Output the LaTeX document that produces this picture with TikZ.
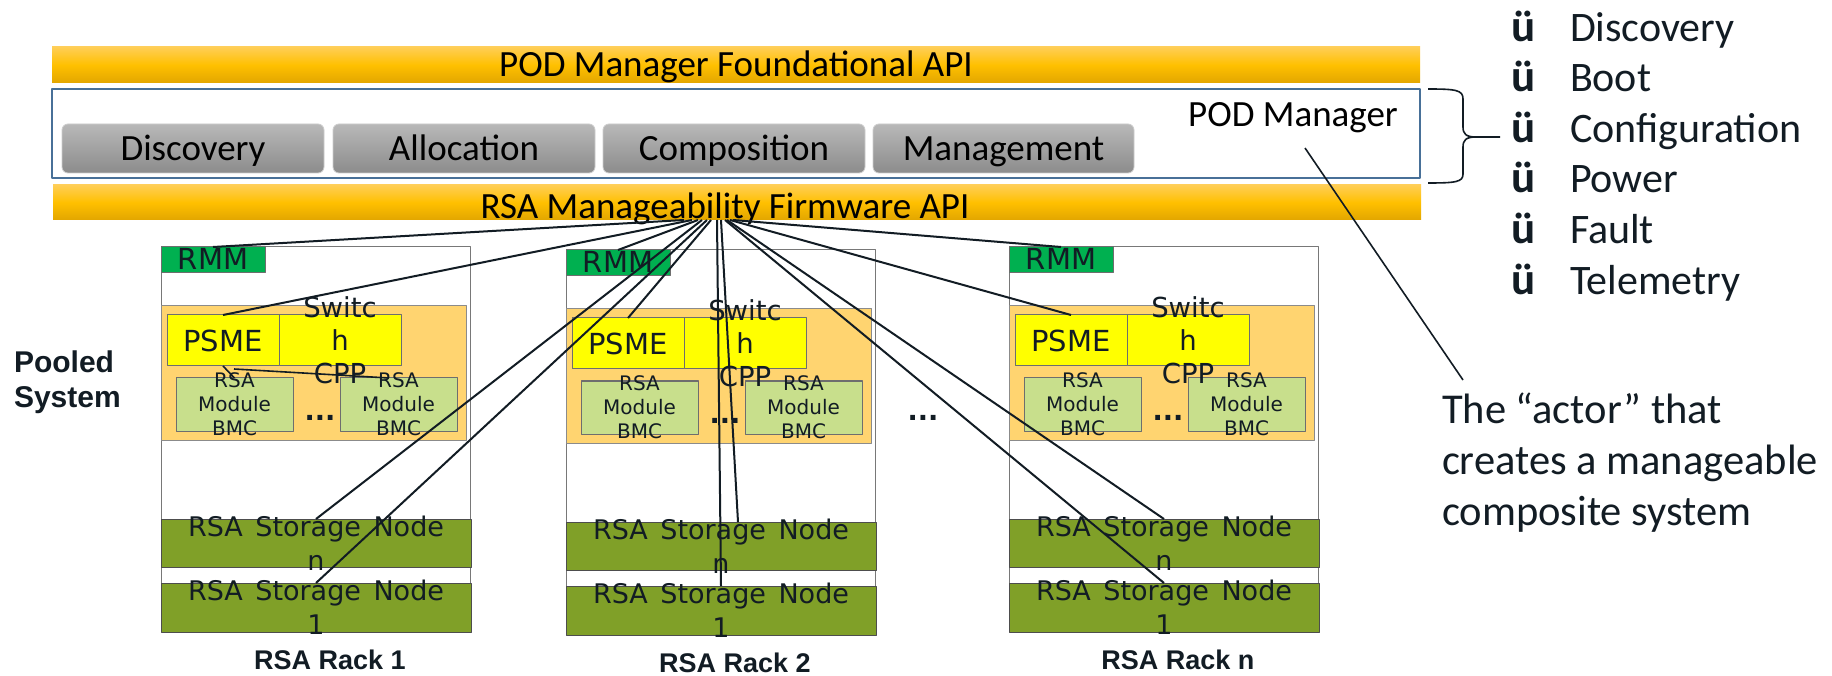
\documentclass[tikz,border=0pt]{standalone}
\usepackage{fontspec}
\setmainfont{Carlito}
\newfontfamily\vfont{DejaVu Sans}
\newfontfamily\afont{Liberation Sans}
\usetikzlibrary{calc}
\newcommand\widespaces{\spaceskip=12.5pt\relax}

\definecolor{ink}{RGB}{18,28,36}
\definecolor{barT}{RGB}{255,206,86}
\definecolor{barM}{RGB}{255,192,0}
\definecolor{barB}{RGB}{226,166,0}
\definecolor{btnT}{RGB}{184,184,184}
\definecolor{btnB}{RGB}{140,140,140}
\definecolor{btnE}{RGB}{205,205,205}
\definecolor{boxblue}{RGB}{72,112,152}
\definecolor{rmmgreen}{RGB}{0,176,80}
\definecolor{orangebg}{RGB}{255,212,112}
\definecolor{psmeyellow}{RGB}{255,255,0}
\definecolor{modgreen}{RGB}{200,223,140}
\definecolor{olive}{RGB}{128,160,40}
\definecolor{rackgray}{RGB}{120,120,120}
\definecolor{edgegray}{RGB}{110,110,110}

\newcommand\bx[7]{\node[#6, minimum width={(#4)-(#2)}, minimum height={(#5)-(#3)}] (#1) at ({((#2)+(#4))/2},{((#3)+(#5))/2}) {#7};}

\tikzset{
  every node/.style={inner sep=0pt, outer sep=0pt},
  apibar/.style={rectangle, draw=none, top color=barT, bottom color=barB, middle color=barM},
  btn/.style={rectangle, rounded corners=6pt, draw=btnE, line width=0.8pt, top color=btnT, bottom color=btnB},
  podbox/.style={rectangle, draw=boxblue, line width=2.2pt, fill=white},
  clear/.style={font=\fontsize{37}{44}\selectfont, text=black},
  chk/.style={font=\fontsize{45}{50}\selectfont\bfseries, text=ink, anchor=base west},
  cl/.style={font=\fontsize{42}{50}\selectfont, text=ink, anchor=base west},
  actor/.style={font=\fontsize{42.5}{51}\selectfont, text=ink, anchor=base west},
  rackbox/.style={rectangle, draw=rackgray, line width=1pt, fill=white},
  rmmbox/.style={rectangle, draw=edgegray, line width=1pt, fill=rmmgreen},
  orngbox/.style={rectangle, draw=edgegray!80, line width=1pt, fill=orangebg},
  ybox/.style={rectangle, draw=edgegray, line width=1pt, fill=psmeyellow},
  modbox/.style={rectangle, draw=edgegray, line width=1pt, fill=modgreen},
  stbox/.style={rectangle, draw=edgegray!70!black, line width=1pt, fill=olive},
  bigtxt/.style={font=\vfont\fontsize{29}{33}\selectfont, text=ink, align=center},
  vtxt/.style={font=\vfont\fontsize{27.5}{33}\selectfont, text=ink, align=center},
  mtxt/.style={font=\vfont\fontsize{20}{24}\selectfont, text=ink, align=center},
  stxt/.style={font={\vfont\fontsize{27}{34}\selectfont\widespaces}, text=ink, align=center},
  dotstyle/.style={font=\vfont\bfseries\fontsize{27}{30}\selectfont, text=ink, anchor=base},
  rlabel/.style={font=\afont\bfseries\fontsize{27}{30}\selectfont, text=ink},
  wire/.style={draw=ink, line width=2pt},
}

\newcommand\drawrack[4]{%
  \bx{#1rack}{#2}{#3}{#2+309}{#3+336}{rackbox}{}
  \bx{#1rmm}{#2}{#3}{#2+104}{#3+26}{rmmbox}{}
  \bx{#1orng}{#2}{#3+59}{#2+305}{#3+193}{orngbox}{}
  \bx{#1psme}{#2+6}{#3+68}{#2+118}{#3+119}{ybox}{}
  \bx{#1sw}{#2+118}{#3+68}{#2+240}{#3+119}{ybox}{}
  \bx{#1modl}{#2+15}{#3+131}{#2+132}{#3+184}{modbox}{}
  \bx{#1modr}{#2+179}{#3+131}{#2+296}{#3+184}{modbox}{}
  \bx{#1sn}{#2}{#3+272}{#2+310}{#3+320}{stbox}{}
  \bx{#1s1}{#2}{#3+336}{#2+310}{#3+385}{stbox}{}
  \node[bigtxt] (#1rmmt) at ({#2+52},{#3+12}) {RMM};
  \node[bigtxt] (#1psmet) at (#1psme) {PSME};
  \node[mtxt] (#1modlt) at (#1modl) {RSA\\Module\\BMC};
  \node[mtxt] (#1modrt) at (#1modr) {RSA\\Module\\BMC};
  \node[vtxt] (#1swt) at (#1sw) {Switc\\h\\CPP};
  \node[dotstyle] (#1dots) at ({#2+159},{#3+173}) {...};
  \node[stxt] (#1snt) at (#1sn) {RSA Storage Node\\n};
  \node[stxt] (#1s1t) at (#1s1) {RSA Storage Node\\1};
  \node[rlabel] (#1lbl) at ({#2+169},{#3+413}) {#4};
}

\begin{document}
\begin{tikzpicture}[x=1pt, y=-1pt, line join=round]
\useasboundingbox (0,0) rectangle (1832,676);
\fill[white] (0,0) rectangle (1832,676);

% POD manager layer
\bx{podbar}{52}{47}{1420}{83}{apibar}{}
\node[clear, anchor=base] (podbart) at (736,77) {POD Manager Foundational API};
\bx{podmgr}{52}{89}{1420}{178}{podbox}{}
\node[clear, anchor=base] (podmgrt) at (1293,127) {POD Manager};
\bx{bdisc}{62}{124}{324}{173}{btn}{}
\bx{balloc}{333}{124}{595}{173}{btn}{}
\bx{bcomp}{603}{124}{865}{173}{btn}{}
\bx{bmgmt}{873}{124}{1134}{173}{btn}{}
\node[clear, anchor=base] (bdisct) at (193,161) {Discovery};
\node[clear, anchor=base] (balloct) at (464,161) {Allocation};
\node[clear, anchor=base] (bcompt) at (734,161) {Composition};
\node[clear, anchor=base] (bmgmtt) at (1003.5,161) {Management};
\bx{fwbar}{53}{185}{1421}{220}{apibar}{}
\node[clear, anchor=base] (fwbart) at (725,219) {RSA Manageability Firmware API};

% brace
\draw[draw=ink, line width=1.6pt] (1428,89) .. controls (1456,89) and (1463,90) .. (1463,99) -- (1463,127) .. controls (1463,134) and (1466,137) .. (1476,137) -- (1500,137);
\draw[draw=ink, line width=1.6pt] (1476,137) .. controls (1466,137) and (1463,140) .. (1463,147) -- (1463,174) .. controls (1463,182) and (1456,183) .. (1428,183);

% checklist
\node[chk] (ck1) at (1511,42) {ü};
\node[chk] (ck2) at (1511,92) {ü};
\node[chk] (ck3) at (1511,143) {ü};
\node[chk] (ck4) at (1511,193) {ü};
\node[chk] (ck5) at (1511,244) {ü};
\node[chk] (ck6) at (1511,295) {ü};
\node[cl] (cl1) at (1570,42) {Discovery};
\node[cl] (cl2) at (1570,92) {Boot};
\node[cl] (cl3) at (1570,143) {Configuration};
\node[cl] (cl4) at (1570,193) {Power};
\node[cl] (cl5) at (1570,244) {Fault};
\node[cl] (cl6) at (1570,295) {Telemetry};

% actor text
\node[actor] (act1) at (1442,423) {The “actor” that};
\node[actor] (act2) at (1442,474) {creates a manageable};
\node[actor] (act3) at (1442,525) {composite system};
\coordinate (podtip) at (1305,148);
\coordinate (acttip) at (1463,380);
\draw[wire, line width=1.6pt] (podtip) -- (acttip);

% pooled system
\node[font=\afont\bfseries\fontsize{30}{35}\selectfont, text=ink, align=left, anchor=west] (pooled) at (14,382) {Pooled\\System};

% racks
\drawrack{r1}{161}{247}{RSA Rack 1}
\drawrack{r2}{566}{250}{RSA Rack 2}
\drawrack{r3}{1009}{247}{RSA Rack n}
\node[dotstyle] (rackdots) at (923,420) {...};

% rack 1 internal links
\coordinate (r1j) at ($(r1psme.south)+(11,3)$);
\coordinate (r1mr) at ($(r1modr.north west)+(49,0)$);
\draw[wire, line width=1.6pt] (r1psme.south) -- (r1modl.north);
\draw[wire, line width=1.6pt] (r1j) -- (r1mr);

% fan of links from the firmware API
\coordinate (h1) at (684,220);
\coordinate (h2) at (692,220);
\coordinate (h3) at (702,220);
\coordinate (h4) at (707,220);
\coordinate (h5) at (698,220);
\coordinate (h6) at (711,220);
\coordinate (h7) at (717,220);
\coordinate (h8) at (721,220);
\coordinate (h9) at (733,220);
\coordinate (h10) at (730,220);
\coordinate (h11) at (727,220);
\coordinate (h12) at (725,220);
\coordinate (r2snx) at ($(r2sn.north)+(17,0)$);
\draw[wire] (h1) -- (r1rmm.north);
\draw[wire] (h2) -- (r1psme.north);
\draw[wire] (h3) -- (r1sn.north);
\draw[wire] (h4) -- (r1s1.north);
\draw[wire] (h5) -- (r2rmm.north);
\draw[wire] (h6) -- (r2psme.north);
\draw[wire] (h7) -- (r2s1.north);
\draw[wire] (h8) -- (r2snx);
\draw[wire] (h9) -- (r3rmm.north);
\draw[wire] (h10) -- (r3psme.north);
\draw[wire] (h11) -- (r3sn.north);
\draw[wire] (h12) -- (r3s1.north);
\end{tikzpicture}
\end{document}
